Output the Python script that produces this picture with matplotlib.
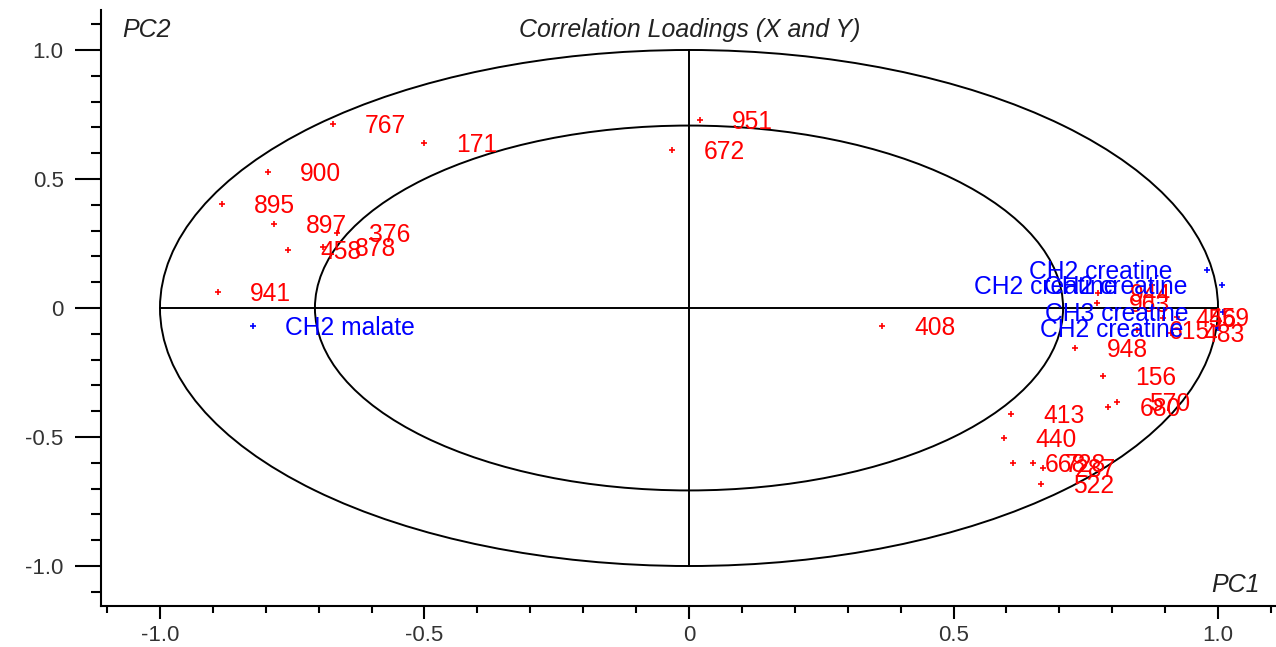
import numpy as np
import matplotlib
matplotlib.use("Agg")
import matplotlib.pyplot as plt
from matplotlib.patches import Ellipse
from matplotlib.ticker import MultipleLocator, FixedLocator

plt.rcParams['font.family'] = ['Liberation Sans', 'DejaVu Sans']

##################################################
# X loadings (red)
x_labels = ['767', '171', '900', '895', '897', '376', '458', '878', '941',
            '951', '672', '408',
            '944', '963', '948', '156', '615', '456', '459', '483',
            '680', '570', '413', '440', '668', '728', '287', '522']
x_pc1 = [-0.673, -0.501, -0.796, -0.883, -0.785, -0.665, -0.758, -0.692, -0.890,
         0.021, -0.032, 0.365,
         0.773, 0.771, 0.730, 0.783, 0.847, 0.896, 0.922, 0.911,
         0.792, 0.809, 0.609, 0.595, 0.612, 0.650, 0.669, 0.665]
x_pc2 = [0.713, 0.640, 0.527, 0.403, 0.326, 0.291, 0.225, 0.236, 0.062,
         0.729, 0.612, -0.070,
         0.058, 0.019, -0.155, -0.264, -0.085, -0.039, -0.035, -0.097,
         -0.384, -0.364, -0.411, -0.504, -0.601, -0.601, -0.620, -0.682]

# Y loadings (blue)
y_labels = ['CH2 malate', 'CH2 creatine', 'CH2 creatine', 'CH2 creatine',
            'CH3 creatine', 'CH2 creatine']
y_pc1 = [-0.824, 0.979, 1.008, 0.875, 1.009, 1.000]
y_pc2 = [-0.070, 0.147, 0.089, 0.089, -0.016, -0.078]

ticks = [-1.0, -0.5, 0.0, 0.5, 1.0]
tick_labels = ['-1.0', '-0.5', '0', '0.5', '1.0']
inner_r = np.sqrt(0.5)


fig = plt.figure(figsize=(12.76, 6.47), dpi=100)
ax = fig.add_axes([101 / 1276, 41 / 647, 1175 / 1276, 596 / 647])
ax.set_xlim(-1.1115, 1.1096)
ax.set_ylim(-1.155, 1.155)

# circles (ellipses in pixel space)
for r in [1.0, inner_r]:
    ax.add_patch(Ellipse((0, 0), 2 * r, 2 * r, fill=False, ec='black', lw=1.4))
ax.plot([-1, 1], [0, 0], color='black', lw=1.4)
ax.plot([0, 0], [-1, 1], color='black', lw=1.4)

ax.plot(x_pc1, x_pc2, '+', color='red', ms=5, mew=1.2, ls='none')
ax.plot(y_pc1, y_pc2, '+', color='blue', ms=5, mew=1.2, ls='none')

texts = []
for lab, px, py in zip(x_labels, x_pc1, x_pc2):
    t = ax.annotate(lab, (px, py), xytext=(23, -1.5), textcoords='offset points',
                    ha='left', va='center', color='red', fontsize=17.7)
    texts.append(t)
for lab, px, py in zip(y_labels, y_pc1, y_pc2):
    t = ax.annotate(lab, (px, py), xytext=(23, -1.5), textcoords='offset points',
                    ha='left', va='center', color='blue', fontsize=17.7)
    texts.append(t)

# flip labels that run past the right border
fig.canvas.draw()
right_edge = ax.get_window_extent().x1
renderer = fig.canvas.get_renderer()
for t in texts:
    if t.get_window_extent(renderer).x1 > right_edge:
        t.set_position((-25, -1.5))
        t.set_ha('right')

# axes styling
for s in ['top', 'right']:
    ax.spines[s].set_visible(False)
for s in ['left', 'bottom']:
    ax.spines[s].set_linewidth(1.5)

ax.xaxis.set_major_locator(FixedLocator(ticks))
ax.yaxis.set_major_locator(FixedLocator(ticks))
ax.set_xticklabels(tick_labels)
ax.set_yticklabels(tick_labels)
ax.xaxis.set_minor_locator(MultipleLocator(0.1))
ax.yaxis.set_minor_locator(MultipleLocator(0.1))
ax.tick_params(axis='x', which='major', direction='out', length=9, width=1.5,
               labelsize=16, pad=5, labelcolor='#333333')
ax.tick_params(axis='x', which='minor', direction='out', length=5, width=1.5)
ax.tick_params(axis='y', which='major', direction='out', length=19, width=1.5,
               labelsize=16, pad=8, labelcolor='#333333')
ax.tick_params(axis='y', which='minor', direction='out', length=7, width=1.5)

ax.text(0.018, 0.966, 'PC2', transform=ax.transAxes, ha='left', va='center',
        fontsize=18, style='italic', color='#222222')
ax.text(0.986, 0.035, 'PC1', transform=ax.transAxes, ha='right', va='center',
        fontsize=18, style='italic', color='#222222')
ax.text(0.501, 0.966, 'Correlation Loadings (X and Y)', transform=ax.transAxes,
        ha='center', va='center', fontsize=17.9, style='italic', color='#222222')

fig.savefig('out.png', dpi=100)
